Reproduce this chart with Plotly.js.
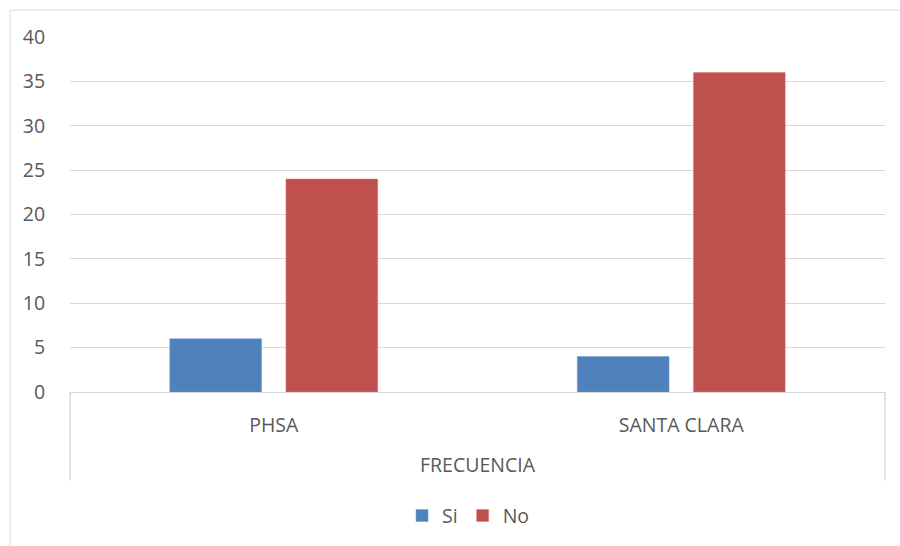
<!DOCTYPE html>
<html>
<head>
<meta charset="utf-8">
<script src="https://cdn.plot.ly/plotly-3.0.1.min.js"></script>
<style>html,body{margin:0;padding:0;background:#fff;}#chart{width:900px;height:546px;}</style>
</head>
<body>
<div id="chart"></div>
<script>
const categories = ["PHSA", "SANTA CLARA"];
const groupLabel = "FRECUENCIA";
const siValues = [6, 4];
const noValues = [24, 36];
const yTicks = [0, 5, 10, 15, 20, 25, 30, 35, 40];

const FONT = "'Open Sans', sans-serif";
const FS = 19.5;
const TXT = "#595959";
const LINE = "#d9d9d9";

const traces = [
  {type: "bar", name: "Si", x: categories, y: siValues,
   marker: {color: "#4F81BD", line: {color: "#6f9ad0", width: 0.5}}, hoverinfo: "y"},
  {type: "bar", name: "No", x: categories, y: noValues,
   marker: {color: "#C0504D", line: {color: "#d47c79", width: 0.5}}, hoverinfo: "y"}
];

const layout = {
  width: 900, height: 546,
  margin: {l: 70, r: 15, t: 37, b: 153},
  paper_bgcolor: "#fff", plot_bgcolor: "#fff",
  font: {family: FONT, size: FS, color: TXT},
  barmode: "group", bargap: 0.43, bargroupgap: 0.21,
  showlegend: true,
  legend: {orientation: "h", x: 0.489, xanchor: "center", y: -0.345, yanchor: "middle",
           font: {family: FONT, size: FS, color: TXT}, itemwidth: 30, traceorder: "normal"},
  xaxis: {
    type: "category", showgrid: false, zeroline: false,
    showline: true, linecolor: LINE, linewidth: 1,
    ticks: "outside", ticklen: 16, tickcolor: "rgba(0,0,0,0)",
    tickfont: {family: FONT, size: FS, color: TXT},
    title: {text: groupLabel, font: {family: FONT, size: FS, color: TXT}, standoff: 20},
    automargin: false, fixedrange: true
  },
  yaxis: {
    range: [0, 40], tickvals: yTicks, ticktext: yTicks.map(String),
    showgrid: true, gridcolor: LINE, gridwidth: 1, zeroline: false, showline: false,
    ticks: "outside", ticklen: 20, tickcolor: "rgba(0,0,0,0)",
    tickfont: {family: FONT, size: FS, color: TXT}, automargin: false, fixedrange: true
  },
  shapes: [
    {type: "rect", xref: "paper", yref: "paper", x0: -0.0736, x1: 1.03, y0: -0.5, y1: 1.0758,
     line: {color: LINE, width: 1}, fillcolor: "rgba(0,0,0,0)", layer: "below"},
    {type: "line", xref: "paper", yref: "paper", x0: 0, x1: 0, y0: 0, y1: -0.25,
     line: {color: LINE, width: 1.5}},
    {type: "line", xref: "paper", yref: "paper", x0: 1, x1: 1, y0: 0, y1: -0.25,
     line: {color: LINE, width: 1.5}}
  ]
};

Plotly.newPlot("chart", traces, layout, {displayModeBar: false, staticPlot: true});
</script>
</body>
</html>
